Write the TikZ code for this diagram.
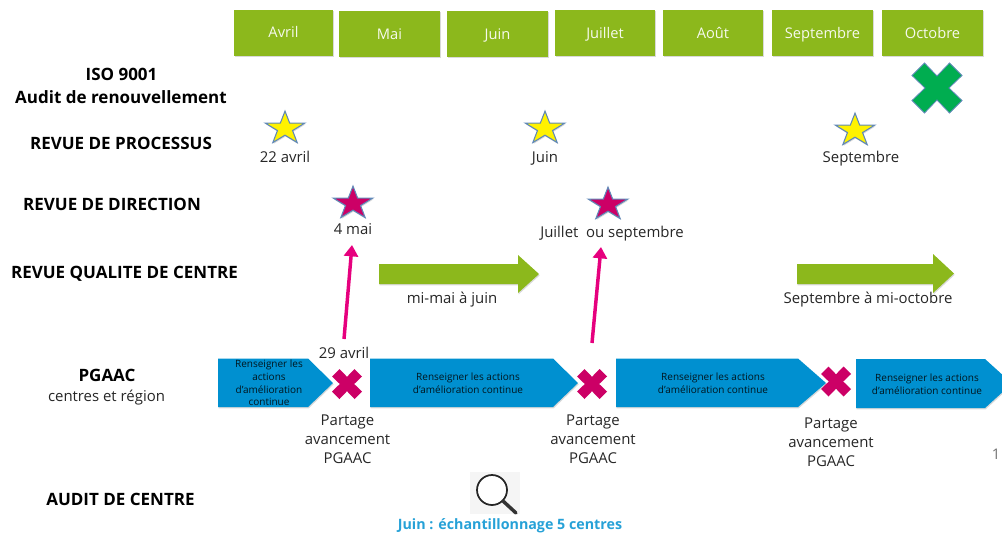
\documentclass[tikz,border=0pt]{standalone}
\usepackage{fontspec}
\setmainfont{Open Sans}
\usetikzlibrary{shapes.geometric,arrows.meta,shadows}
\definecolor{moisgreen}{HTML}{8CB81C}
\definecolor{pgblue}{HTML}{0090D0}
\definecolor{revmagenta}{HTML}{CC0066}
\definecolor{arrowpink}{HTML}{E6007E}
\definecolor{isogreen}{HTML}{00AD50}
\definecolor{starline}{HTML}{5F88B8}
\definecolor{textdark}{HTML}{262626}
\tikzset{
	softshadow/.style={drop shadow={opacity=.3,shadow xshift=.5pt,shadow yshift=-1pt}},
	mois/.style={fill=moisgreen,softshadow,text=white!92!moisgreen,font=\fontsize{11}{13}\selectfont,inner sep=0pt,minimum height=34.5pt,text height=8pt,text depth=0pt},
	rowtitle/.style={font=\fontsize{12.75}{15}\bfseries\selectfont,text=black,inner sep=0pt,text height=9pt,text depth=0pt},
	datelabel/.style={font=\fontsize{11.2}{13}\selectfont,text=textdark,inner sep=0pt,text height=8pt,text depth=0pt},
	partlabel/.style={align=center,font=\fontsize{11.2}{14.2}\selectfont,text=textdark,inner sep=0pt},
	revstar/.style={star,star points=5,star point ratio=2.6,minimum size=31pt,inner sep=0pt,draw=starline,line width=.8pt,yscale=.84,transform shape,softshadow},
	bigarrow/.style={fill=moisgreen,softshadow},
	pgarrow/.style={fill=pgblue,softshadow},
	pgtext/.style={font=\fontsize{7.5}{9.6}\selectfont,text=black!85!pgblue,align=center,inner sep=0pt},
	pinkarrow/.style={draw=arrowpink,line width=2.6pt,-{Triangle[width=10.5pt,length=8.5pt]}},
	crossmark/.pic={
		\path[pic actions] (-1,-.5) -- (-.5,-1) -- (0,-.48) -- (.5,-1) -- (1,-.5) -- (.48,0) -- (1,.5) -- (.5,1) -- (0,.48) -- (-.5,1) -- (-1,.5) -- (-.48,0) -- cycle;
	},
}
\begin{document}
\begin{tikzpicture}[x=.75pt,y=-.75pt]

	\useasboundingbox (0,0) rectangle (1002,532);
	\clip (0,0) rectangle (1002,532);

	% mois
	\node[mois,minimum width=74.25pt] (avril) at (283.5,32.5) {Avril};
	\node[mois,minimum width=75.75pt] (mai) at (389.5,34) {Mai};
	\node[mois,minimum width=75.75pt] (juin) at (497.5,34) {Juin};
	\node[mois,minimum width=75pt] (juillet) at (605,33) {Juillet};
	\node[mois,minimum width=75pt] (aout) at (713,33) {Août};
	\node[mois,minimum width=75.75pt] (septembre) at (822.5,33) {Septembre};
	\node[mois,minimum width=75.75pt] (octobre) at (932.5,33) {Octobre};

	% titres
	\node[rowtitle] (iso) at (121.5,74) {ISO 9001};
	\node[rowtitle] (audit) at (121,97) {Audit de renouvellement};
	\node[rowtitle] (processus) at (121,143) {REVUE DE PROCESSUS};
	\node[rowtitle] (direction) at (112,204.5) {REVUE DE DIRECTION};
	\node[rowtitle] (qualite) at (124.5,272) {REVUE QUALITE DE CENTRE};
	\node[rowtitle] (pgaac) at (107,375) {PGAAC};
	\node[datelabel] (centres) at (106.5,396) {centres et région};
	\node[rowtitle] (auditcentre) at (120.5,499) {AUDIT DE CENTRE};

	\pic[fill=isogreen,draw=starline,line width=.6pt,scale=25] at (937,88) {crossmark};

	% revues
	\node[revstar,fill=yellow] (proc1) at (285,128.5) {};
	\node[revstar,fill=yellow] (proc2) at (545,128.5) {};
	\node[revstar,fill=yellow] (proc3) at (855,130.5) {};
	\node[datelabel] (date1) at (285,157) {22 avril};
	\node[datelabel] (date2) at (545,157) {Juin};
	\node[datelabel] (date3) at (861,157) {Septembre};

	\node[revstar,fill=revmagenta] (dir1) at (353,203.5) {};
	\node[revstar,fill=revmagenta] (dir2) at (608,204.5) {};
	\node[datelabel] (mai4) at (353,229) {4 mai};
	\node[datelabel] (juilsep) at (612,232) {Juillet~ ou septembre};

	% revue qualite
	\path[bigarrow] (379,264) -- (518,264) -- (518,255) -- (539,274) -- (518,293) -- (518,284) -- (379,284) -- cycle;
	\path[bigarrow] (797,264) -- (933,264) -- (933,254) -- (954,273.5) -- (933,293) -- (933,284) -- (797,284) -- cycle;
	\node[datelabel] (qual1) at (452,298) {mi-mai à juin};
	\node[datelabel] (qual2) at (868,298) {Septembre à mi-octobre};

	% PGAAC
	\path[pgarrow] (218,358.5) -- (308,358.5) -- (333,383) -- (308,407) -- (218,407) -- cycle;
	\path[pgarrow] (370,358.5) -- (553,358.5) -- (578,383) -- (553,407) -- (370,407) -- cycle;
	\path[pgarrow] (616,358.5) -- (798,358.5) -- (826,383) -- (798,407) -- (616,407) -- cycle;
	\path[pgarrow] (856,359) -- (985,359) -- (1012,383.5) -- (985,408) -- (856,408) -- cycle;
	\node[pgtext] (act1) at (269,383) {Renseigner les\\actions\\d’amélioration\\continue};
	\node[pgtext] (act2) at (468,383) {Renseigner les actions\\d’amélioration continue};
	\node[pgtext] (act3) at (713,383) {Renseigner les actions\\d’amélioration continue};
	\node[pgtext] (act4) at (927,384) {Renseigner les actions\\d’amélioration continue};

	\pic[fill=revmagenta,scale=15] at (347,384) {crossmark};
	\pic[fill=revmagenta,scale=15] at (592,384) {crossmark};
	\pic[fill=revmagenta,scale=15] at (836,381.5) {crossmark};

	\node[partlabel] (part1) at (347.5,439) {Partage\\avancement\\PGAAC};
	\node[partlabel] (part2) at (593,439) {Partage\\avancement\\PGAAC};
	\node[partlabel] (part3) at (831,442) {Partage\\avancement\\PGAAC};

	% fleches
	\node[datelabel] (avril29) at (344,353) {29 avril};
	\coordinate (start1) at (344,339);
	\coordinate (end1) at (352,245);
	\coordinate (start2) at (592,343);
	\coordinate (end2) at (601,247);
	\draw[pinkarrow] (start1) -- (end1);
	\draw[pinkarrow] (start2) -- (end2);

	% audit
	\fill[black!4] (470,472) rectangle (520,514);
	\draw[black!85,line width=1.3pt,fill=white] (492,490) circle (15);
	\coordinate (loupe1) at (503,501);
	\coordinate (loupe2) at (516,513);
	\draw[black!80,line width=2.6pt,line cap=round] (loupe1) -- (loupe2);
	\node[inner sep=0pt,font=\fontsize{10.7}{13}\bfseries\selectfont,text=pgblue!85!white,text height=8pt,text depth=0pt] (echant) at (510,524) {Juin : échantillonnage 5 centres};

	\node[inner sep=0pt,font=\fontsize{11}{13}\selectfont,text=black!55] (page) at (996,454) {1};

\end{tikzpicture}
\end{document}
